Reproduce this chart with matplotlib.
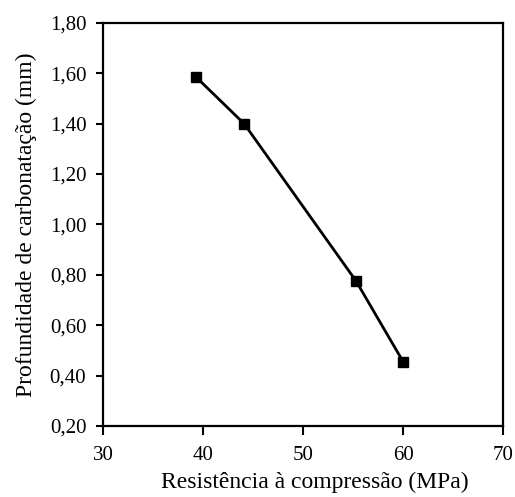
import matplotlib

matplotlib.use("Agg")
import matplotlib.pyplot as plt  # noqa: E402
from matplotlib.ticker import FuncFormatter  # noqa: E402

# Resistência à compressão (MPa) vs profundidade de carbonatação (mm)
resistencia = [39.3, 44.1, 55.3, 60.0]
profundidade = [1.585, 1.40, 0.775, 0.455]
x_ticks = [30, 40, 50, 60, 70]
y_ticks = [0.20, 0.40, 0.60, 0.80, 1.00, 1.20, 1.40, 1.60, 1.80]

plt.rcParams["font.family"] = ["Liberation Serif", "DejaVu Serif"]

fig = plt.figure(figsize=(5.15, 4.97), dpi=100)
ax = fig.add_axes([0.2, 0.143, 0.777, 0.811])
ax.plot(resistencia, profundidade, "-s", color="black", linewidth=2,
        markersize=7.5, markerfacecolor="black", clip_on=False)
ax.set_xlim(30, 70)
ax.set_ylim(0.20, 1.80)
ax.set_xticks(x_ticks)
ax.set_yticks(y_ticks)
ax.yaxis.set_major_formatter(FuncFormatter(lambda v, _: f"{v:.2f}".replace(".", ",")))
ax.tick_params(direction="out", width=1.5, labelsize=15, top=False, right=False)
ax.tick_params(axis="x", length=6.5, pad=8)
ax.tick_params(axis="y", length=5, pad=7)
for s in ax.spines.values():
    s.set_linewidth(1.6)
ax.set_xlabel("Resistência à compressão (MPa)", fontsize=17, labelpad=5)
ax.xaxis.label.set_x(0.53)
ax.set_ylabel("Profundidade de carbonatação (mm)", fontsize=17, labelpad=9)
fig.savefig("out.png", dpi=100)
plt.close(fig)
